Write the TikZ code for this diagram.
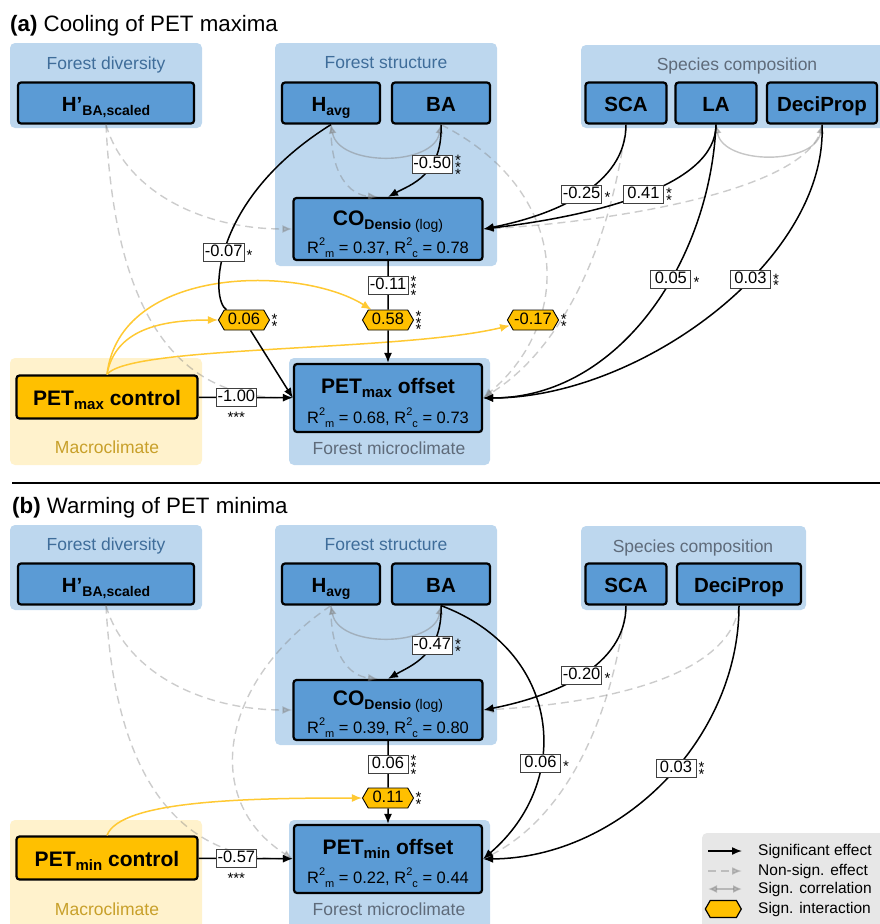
\documentclass[tikz,border=0pt]{standalone}
\usepackage{fontspec}
\setmainfont{Liberation Sans}
\usetikzlibrary{arrows.meta,shapes.symbols,positioning}
\definecolor{grpblue}{HTML}{BDD7EE}
\definecolor{varblue}{HTML}{5B9BD5}
\definecolor{petyellow}{HTML}{FFC000}
\definecolor{macroyel}{HTML}{FFF2CC}
\definecolor{macrotxt}{HTML}{C8A02A}
\definecolor{grptxt}{HTML}{3F6D9A}
\definecolor{grptxtb}{HTML}{5F6B7A}
\definecolor{lgdgray}{HTML}{E7E7E7}
\definecolor{ixline}{HTML}{FFC933}
\pgfdeclarelayer{front}
\pgfsetlayers{main,front}
\newcommand{\lowsub}[2][14]{\raisebox{-0.22em}{\fontsize{#1}{#1}\selectfont #2}}
\newcommand{\Rsq}[1]{R\raisebox{0.45em}{\fontsize{11}{11}\selectfont 2}\raisebox{-0.25em}{\fontsize{11}{11}\selectfont #1}}
\newcommand{\twostar}{*\\[-4.5pt]*}
\newcommand{\threestar}{*\\[-4.5pt]*\\[-4.5pt]*}
\begin{document}
\begin{tikzpicture}
			[x=1pt,y=-1pt,
			grp/.style={fill=grpblue,rounded corners=5pt},
			macro/.style={fill=macroyel,rounded corners=5pt},
			grptext/.style={anchor=base,inner sep=0pt,text=grptxt,font=\fontsize{17.5}{17.5}\selectfont},
			var/.style={draw=black,fill=varblue,line width=2.2pt,rounded corners=3pt,inner sep=0pt,minimum height=41pt,text height=16pt,text depth=0pt,font=\fontsize{20.5}{20.5}\selectfont\bfseries},
			resp/.style={var,minimum width=188pt,minimum height=62pt},
			ctrl/.style={var,fill=petyellow,minimum width=181pt,minimum height=43pt,font=\fontsize{21}{21}\selectfont\bfseries},
			head/.style={anchor=base,inner sep=0pt,font=\fontsize{21}{21}\selectfont\bfseries},
			rsq/.style={anchor=base,inner sep=0pt,font=\fontsize{16.5}{16.5}\selectfont},
			coef/.style={draw=black!75,fill=white,line width=0.8pt,inner sep=1.5pt,minimum width=40pt,text height=12pt,text depth=3pt,font=\fontsize{16.5}{16.5}\selectfont},
			hexa/.style={shape=signal,signal to=east and west,signal pointer angle=120,draw=black,fill=petyellow,line width=0.9pt,inner sep=1pt,minimum width=51pt,minimum height=20pt,text height=12pt,text depth=3pt,font=\fontsize{16.5}{16.5}\selectfont},
			st/.style={inner sep=1.5pt,yshift=-3pt,align=center,font=\fontsize{15}{7}\selectfont},
			sig/.style={draw=black,line width=1.5pt,-{Latex[length=10pt,width=8pt]}},
			nonsig/.style={draw=gray,opacity=0.4,line width=1.4pt,dash pattern=on 8pt off 5pt,-{Latex[length=10pt,width=8pt]}},
			corr/.style={draw=gray,opacity=0.45,line width=1.4pt,{Latex[length=9pt,width=8pt]}-{Latex[length=9pt,width=8pt]}},
			inter/.style={draw=ixline,line width=1.5pt,-{Latex[length=10pt,width=8pt]}},
			lgd/.style={anchor=west,inner sep=0pt,font=\fontsize{15.5}{15.5}\selectfont}]
			\useasboundingbox (0,0) rectangle (880,924);

			% (a) cooling of PET maxima
			\node[anchor=base west,inner sep=0pt,font=\fontsize{22.3}{22.3}\selectfont] (ttlA) at (10,31) {\textbf{(a)} Cooling of PET maxima};
			\fill[grp] (10,43) rectangle (202,128);
			\fill[grp] (275,43) rectangle (497,266);
			\fill[grp] (581,45) rectangle (885,128);
			\fill[macro] (10,358) rectangle (202,465);
			\fill[grp] (289,358) rectangle (490,465);
			\node[grptext] (gdivA) at (106,69) {Forest diversity};
			\node[grptext] (gstrA) at (386,68) {Forest structure};
			\node[grptext,text=grptxtb] (gspcA) at (737,70) {Species composition};
			\node[grptext,text=macrotxt] (gmacA) at (107,453) {Macroclimate};
			\node[grptext,text=grptxtb] (gmicA) at (389,454) {Forest microclimate};

			\node[var,minimum width=176pt] (divA) at (106,103) {H’\lowsub{BA,scaled}};
			\node[var,minimum width=98pt] (havgA) at (331,103) {H\lowsub{avg}};
			\node[var,minimum width=98pt] (baA) at (441,103) {BA};
			\node[var,minimum width=81pt] (scaA) at (626,103) {SCA};
			\node[var,minimum width=81pt] (laA) at (716,103) {LA};
			\node[var,minimum width=110pt] (deciA) at (822,103) {DeciProp};
			\node[resp,minimum width=189pt] (coA) at (388,229) {};
			\node[head] (coAt) at (388,225) {CO\lowsub{Densio \mdseries(log)}};
			\node[rsq] (coAr) at (388,253) {\Rsq{m} = 0.37, \Rsq{c} = 0.78};
			\node[resp,minimum height=68pt] (offA) at (388,398) {};
			\node[head] (offAt) at (388,393) {PET\lowsub[15]{max} offset};
			\node[rsq] (offAr) at (388,423) {\Rsq{m} = 0.68, \Rsq{c} = 0.73};
			\node[ctrl] (ctrlA) at (107,397) {PET\lowsub[15]{max} control};

			\begin{pgfonlayer}{front}
			\node[hexa,label={[st]right:{\twostar}}] (ixA1) at (244,320) {0.06};
			\node[hexa,label={[st]right:{\threestar}}] (ixA2) at (388,320) {0.58};
			\node[hexa,label={[st]right:{\twostar}}] (ixA3) at (533,320) {-0.17};
			\end{pgfonlayer}

			\draw[nonsig] (divA.south) .. controls (125,190) and (200,229) .. (coA.west);
			\draw[nonsig] (divA.south) .. controls (115,320) and (180,397) .. (offA.west);
			\draw[nonsig] (havgA.south) .. controls (330,175) and (350,195) .. ([xshift=-10pt]coA.north);
			\draw[nonsig] (baA.south) .. controls (570,190) and (575,320) .. (offA.east);
			\draw[nonsig] (scaA.south) .. controls (610,250) and (560,350) .. (offA.east);
			\draw[nonsig] (deciA.south) .. controls (815,190) and (610,222) .. (coA.east);
			\draw[corr] (havgA.south) to[out=-80,in=-100] (baA.south);
			\draw[corr] (laA.south) to[out=-80,in=-100] (deciA.south);

			\draw[inter] (ctrlA.north) .. controls (115,330) and (160,320) .. (ixA1);
			\draw[inter] (ctrlA.north) .. controls (120,265) and (300,265) .. (ixA2);
			\draw[inter] (ctrlA.north) .. controls (130,345) and (400,352) .. (ixA3);

			\draw[sig] (havgA.south) .. controls (210,200) and (210,300) .. node[coef,pos=0.55,label={[st]right:{*}}] {-0.07} (ixA1) -- (offA.west);
			\draw[sig] (baA.south) .. controls (443,175) and (410,185) .. node[coef,pos=0.35,label={[st]right:{\threestar}}] {-0.50} (coA.north);
			\draw[sig] (coA) -- node[coef,label={[st]right:{\threestar}}] {-0.11} (ixA2) -- (offA);
			\draw[sig] (ctrlA) -- node[coef,pos=0.4,label={[st]below:{***}}] {-1.00} (offA);
			\draw[sig] (scaA.south) .. controls (626,185) and (555,215) .. node[coef,pos=0.5,label={[st]right:{*}}] {-0.25} (coA.east);
			\draw[sig] (laA.south) .. controls (716,185) and (600,215) .. node[coef,pos=0.5,label={[st]right:{\twostar}}] {0.41} (coA.east);
			\draw[sig] (laA.south) .. controls (710,260) and (620,398) .. node[coef,pos=0.4,label={[st]right:{*}}] {0.05} (offA.east);
			\draw[sig] (deciA.south) .. controls (828,260) and (640,398) .. node[coef,pos=0.4,label={[st]right:{\twostar}}] {0.03} (offA.east);

			\draw[line width=1.8pt] (12,483) -- (880,483);

			% (b) warming of PET minima
			\node[anchor=base west,inner sep=0pt,font=\fontsize{22.3}{22.3}\selectfont] (ttlB) at (12,513) {\textbf{(b)} Warming of PET minima};
			\fill[grp] (10,525) rectangle (202,610);
			\fill[grp] (275,525) rectangle (497,745);
			\fill[grp] (581,526) rectangle (806,610);
			\fill[macro] (10,820) rectangle (202,935);
			\fill[grp] (289,820) rectangle (490,935);
			\node[grptext] (gdivB) at (106,550) {Forest diversity};
			\node[grptext] (gstrB) at (386,550) {Forest structure};
			\node[grptext,text=grptxtb] (gspcB) at (693,552) {Species composition};
			\node[grptext,text=macrotxt] (gmacB) at (107,915) {Macroclimate};
			\node[grptext,text=grptxtb] (gmicB) at (389,915) {Forest microclimate};

			\node[var,minimum width=176pt] (divB) at (106,584) {H’\lowsub{BA,scaled}};
			\node[var,minimum width=98pt] (havgB) at (331,584) {H\lowsub{avg}};
			\node[var,minimum width=98pt] (baB) at (441,584) {BA};
			\node[var,minimum width=81pt] (scaB) at (626,584) {SCA};
			\node[var,minimum width=124pt] (deciB) at (739,584) {DeciProp};
			\node[resp,minimum width=189pt,minimum height=60pt] (coB) at (388,710) {};
			\node[head] (coBt) at (388,705) {CO\lowsub{Densio \mdseries(log)}};
			\node[rsq] (coBr) at (388,733) {\Rsq{m} = 0.39, \Rsq{c} = 0.80};
			\node[resp,minimum height=68pt] (offB) at (388,859) {};
			\node[head] (offBt) at (388,854) {PET\lowsub[15]{min} offset};
			\node[rsq] (offBr) at (388,883) {\Rsq{m} = 0.22, \Rsq{c} = 0.44};
			\node[ctrl] (ctrlB) at (107,858) {PET\lowsub[15]{min} control};

			\begin{pgfonlayer}{front}
			\node[hexa,label={[st]right:{\twostar}}] (ixB) at (388,798) {0.11};
			\end{pgfonlayer}

			\draw[nonsig] (divB.south) .. controls (125,671) and (200,710) .. (coB.west);
			\draw[nonsig] (divB.south) .. controls (115,780) and (180,858) .. (offB.west);
			\draw[nonsig] (havgB.south) .. controls (220,680) and (200,800) .. (offB.west);
			\draw[nonsig] (havgB.south) .. controls (330,656) and (350,676) .. ([xshift=-10pt]coB.north);
			\draw[nonsig] (deciB.south) .. controls (730,675) and (610,703) .. (coB.east);
			\draw[nonsig] (scaB.south) .. controls (610,730) and (560,820) .. (offB.east);
			\draw[corr] (havgB.south) to[out=-80,in=-100] (baB.south);

			\draw[inter] (ctrlB.north) .. controls (120,800) and (250,798) .. (ixB);

			\draw[sig] (baB.south) .. controls (443,655) and (410,666) .. node[coef,pos=0.35,label={[st]right:{\twostar}}] {-0.47} (coB.north);
			\draw[sig] (baB.south) .. controls (560,650) and (575,780) .. node[coef,pos=0.65,label={[st]right:{*}}] {0.06} (offB.east);
			\draw[sig] (scaB.south) .. controls (626,666) and (555,696) .. node[coef,pos=0.5,label={[st]right:{*}}] {-0.20} (coB.east);
			\draw[sig] (deciB.south) .. controls (739,740) and (620,858) .. node[coef,pos=0.45,label={[st]right:{\twostar}}] {0.03} (offB.east);
			\draw[sig] (coB) -- node[coef,label={[st]right:{\threestar}}] {0.06} (ixB) -- (offB);
			\draw[sig] (ctrlB) -- node[coef,pos=0.4,label={[st]below:{***}}] {-0.57} (offB);

			% legend
			\fill[lgdgray,rounded corners=5pt] (702,833) rectangle (890,935);
			\node[lgd] (lg1) at (758,851) {Significant effect};
			\node[lgd] (lg2) at (758,871) {Non-sign. effect};
			\node[lgd] (lg3) at (758,889) {Sign. correlation};
			\node[lgd] (lg4) at (758,909) {Sign. interaction};
			\draw[sig] ([xshift=-50pt]lg1.west) -- ([xshift=-16pt]lg1.west);
			\draw[nonsig] ([xshift=-50pt]lg2.west) -- ([xshift=-16pt]lg2.west);
			\draw[corr] ([xshift=-50pt]lg3.west) -- ([xshift=-16pt]lg3.west);
			\node[hexa,minimum width=36pt,minimum height=17pt,line width=1.2pt,left=16pt of lg4] (lg4h) {};
		\end{tikzpicture}
\end{document}
